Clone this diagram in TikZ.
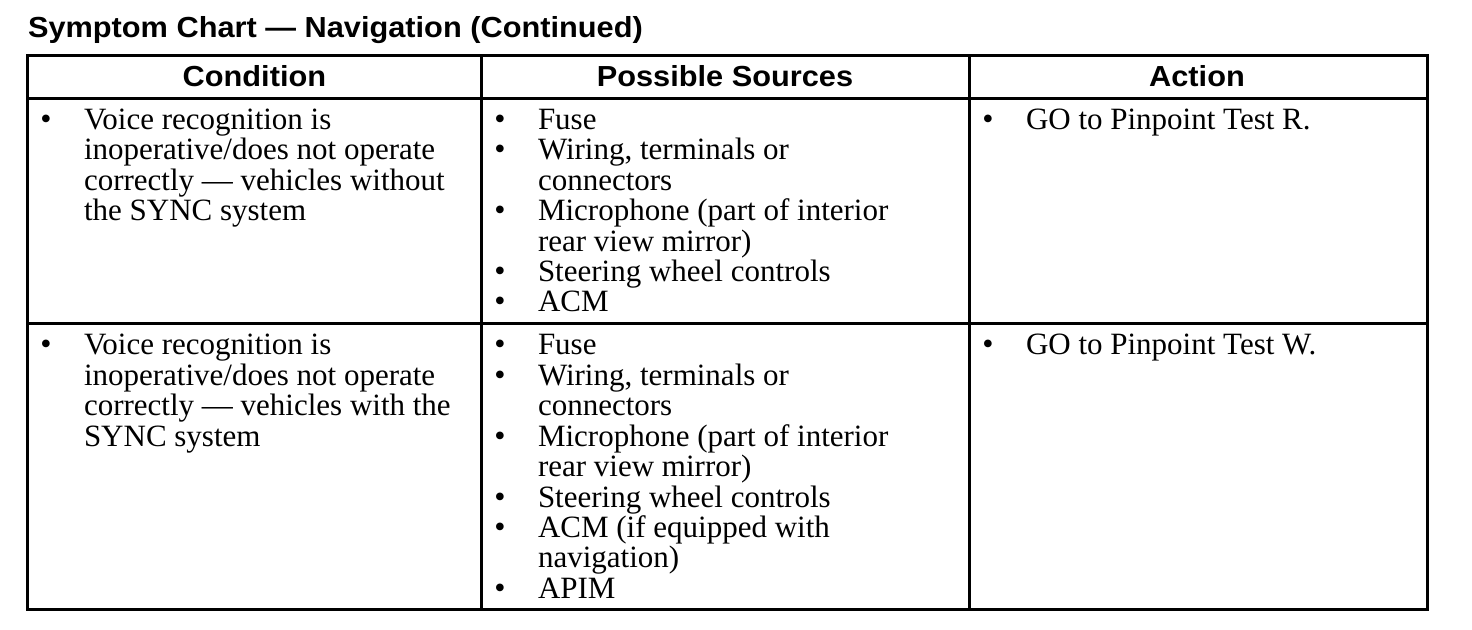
\documentclass[tikz,border=0pt]{standalone}
\usepackage{fontspec}
\setmainfont{Liberation Serif}
\newfontfamily\hdfont{Liberation Sans}[FakeStretch=1.06]
\begin{document}
\begin{tikzpicture}[x=0.5pt,y=-0.5pt,
  txt/.style={anchor=base west,inner sep=0pt,outer sep=0pt,font=\fontsize{15.5}{17}\selectfont},
  bul/.style={anchor=base,inner sep=0pt,outer sep=0pt,font=\fontsize{16}{17}\selectfont},
  hd/.style={anchor=base,inner sep=0pt,outer sep=0pt,font=\hdfont\bfseries\fontsize{14.5}{16}\selectfont},
  ttl/.style={anchor=base west,inner sep=0pt,outer sep=0pt,font=\hdfont\bfseries\fontsize{14.5}{16}\selectfont},
  rule/.style={line width=1.5pt,black}]
\useasboundingbox (0,0) rectangle (1472,630);
% table frame
\coordinate (tl) at (27.5,56);
\coordinate (br) at (1427.5,609);
\draw[rule] (tl) rectangle (br);
\coordinate (c1t) at (481.3,56);  \coordinate (c1b) at (481.3,609);
\coordinate (c2t) at (969,56);    \coordinate (c2b) at (969,609);
\coordinate (h1l) at (27.5,98.5); \coordinate (h1r) at (1427.5,98.5);
\coordinate (r1l) at (27.5,324);  \coordinate (r1r) at (1427.5,324);
\draw[rule] (c1t) -- (c1b);
\draw[rule] (c2t) -- (c2b);
\draw[rule] (h1l) -- (h1r);
\draw[rule] (r1l) -- (r1r);
% title and headers
\node[ttl] (title) at (28,38) {Symptom Chart — Navigation (Continued)};
\node[hd] (hcond) at (254.4,87) {Condition};
\node[hd] (hsrc) at (725,87) {Possible Sources};
\node[hd] (hact) at (1197,87) {Action};
% row 1
\node[bul] (b11) at (46,129.5) {•};
\foreach \t [count=\i from 0] in {Voice recognition is,inoperative/does not operate,correctly — vehicles without,the SYNC system}
  \node[txt] (ra\i) at (84,129.5+\i*30.4) {\t};
\foreach \k in {0,1,3,5,6}
  \node[bul] (bs1\k) at (500,129.5+\k*30.4) {•};
\foreach \t [count=\i from 0] in {Fuse,{Wiring, terminals or},connectors,Microphone (part of interior,rear view mirror),Steering wheel controls,ACM}
  \node[txt] (sa\i) at (538,129.5+\i*30.4) {\t};
\node[bul] (ba1) at (988,129.5) {•};
\node[txt] (act1) at (1026,129.5) {GO to Pinpoint Test R.};
% row 2
\node[bul] (b21) at (46,355) {•};
\foreach \t [count=\i from 0] in {Voice recognition is,inoperative/does not operate,correctly — vehicles with the,SYNC system}
  \node[txt] (rb\i) at (84,355+\i*30.4) {\t};
\foreach \k in {0,1,3,5,6,8}
  \node[bul] (bs2\k) at (500,355+\k*30.4) {•};
\foreach \t [count=\i from 0] in {Fuse,{Wiring, terminals or},connectors,Microphone (part of interior,rear view mirror),Steering wheel controls,ACM (if equipped with,navigation),APIM}
  \node[txt] (sb\i) at (538,355+\i*30.4) {\t};
\node[bul] (ba2) at (988,355) {•};
\node[txt] (act2) at (1026,355) {GO to Pinpoint Test W.};
\end{tikzpicture}
\end{document}
